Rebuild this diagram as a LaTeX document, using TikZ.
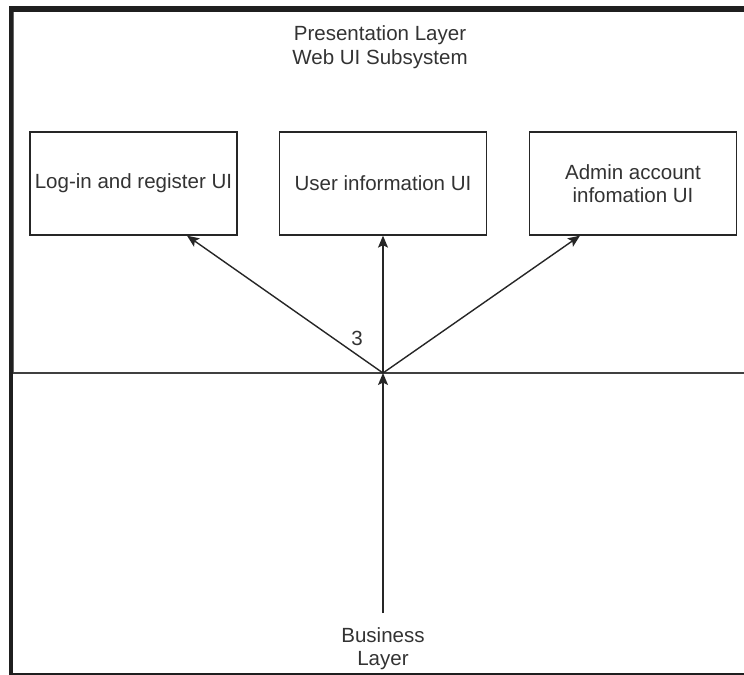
\documentclass[tikz,border=0pt]{standalone}
\usepackage{fontspec}
\setmainfont{Liberation Sans}
\usetikzlibrary{arrows.meta}
\begin{document}
\begin{tikzpicture}[x=1bp,y=-1bp,
  txt/.style={text=black!80, font=\fontsize{20.6}{23.5}\selectfont, align=center, inner sep=0pt},
  uibox/.style={txt, draw=black!85, line width=1.3bp, minimum width=207bp, minimum height=103bp},
  link/.style={draw=black!85, line width=1.4bp, -{Stealth[length=12bp,width=10bp,inset=2.5bp]}},
  band/.style={fill=black!88, draw=none}]
\useasboundingbox (0,0) rectangle (744,675);
\fill[white] (0,0) rectangle (744,675);

% outer frame of the two layers
\fill[band] (9,6) rectangle (744,12);
\fill[band] (9,6) rectangle (13,675);
\fill[band] (9,672.5) rectangle (744,675);
\draw[black!60, line width=1bp] (13.5,12) -- (13.5,372);
% boundary between presentation and business layer
\draw[black!75, line width=2bp] (13,373) -- (744,373);

% presentation layer
\node[txt] (title) at (380,47) {Presentation Layer\\Web UI Subsystem};
\node[uibox] (login) at (133.5,183.5) {Log-in and register UI};
\node[uibox] (user) at (383,183.5) {User information UI};
\node[uibox] (admin) at (633,183.5) {Admin account\\infomation UI};

% business layer
\node[txt] (biz) at (383,648.5) {Business\\Layer};
\coordinate (bizTop) at (383,613);
\coordinate (hub) at (383,373);

% connectors
\draw[link] (bizTop) -- (hub);
\draw[link] (hub) -- ([xshift=53.5bp]login.south);
\draw[link] (hub) -- (user.south);
\draw[link] (hub) -- ([xshift=-53bp]admin.south);
\node[txt] (mult) at (357,338) {3};
\end{tikzpicture}
\end{document}
